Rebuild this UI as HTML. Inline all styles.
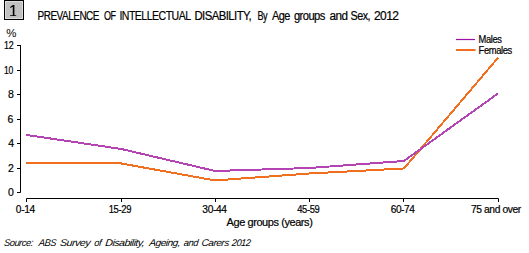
<!DOCTYPE html>
<html><head><meta charset="utf-8">
<style>
html,body{margin:0;padding:0;background:#fff;width:529px;height:253px;overflow:hidden}
svg{display:block}
text{font-family:"Liberation Sans",sans-serif;fill:#000;stroke:#000;stroke-width:0.2px}
</style></head><body>
<svg width="529" height="253" viewBox="0 0 529 253">
<g class="shapes">
<rect x="4.5" y="0.5" width="19" height="19" fill="#c0c0c0" stroke="#000" stroke-width="1"/>
<rect x="5.5" y="1.5" width="17" height="17" fill="none" stroke="#dcdcdc" stroke-width="1"/>
<path d="M12.8 5H14.4V15.2H16.2V16.1H10.1V15.2H12.8V6.7L10.2 8V7.1Z" fill="#000"/>
<g stroke="#000" stroke-width="1" fill="none">
<path d="M20.5 45V192.5M17 45.5H20.5M17 70.5H20.5M17 94.5H20.5M17 119.5H20.5M17 143.5H20.5M17 168.5H20.5M17 192.5H20.5"/>
<path d="M26.5 202V198.5H498.5V202M121.5 198.5V202M215.5 198.5V202M309.5 198.5V202M403.5 198.5V202"/>
</g>
<polyline shape-rendering="crispEdges" fill="none" stroke="#f07020" stroke-width="2" points="26,163.35 121,163.43 215,180.45 309.5,173.5 404,168.46 498,57.8"/>
<polyline shape-rendering="crispEdges" fill="none" stroke="#b444b4" stroke-width="2" points="26,134.88 121,148.93 215,170.98 309.5,168.0 404,160.96 498,93.5"/>
<path d="M456 39.5H475" stroke="#9c10a4" stroke-width="1.2"/>
<path d="M456 50H475.5" stroke="#f07020" stroke-width="2"/>
</g>
<g class="texts">
<text x="37.50" y="19.70" font-size="12" textLength="61.50" lengthAdjust="spacingAndGlyphs" style="letter-spacing:-0.6px;">PREVALENCE</text>
<text x="104.00" y="19.70" font-size="12" textLength="11.65" lengthAdjust="spacingAndGlyphs" style="letter-spacing:-0.6px;">OF</text>
<text x="119.45" y="19.70" font-size="12" textLength="71.05" lengthAdjust="spacingAndGlyphs" style="letter-spacing:-0.6px;">INTELLECTUAL</text>
<text x="194.45" y="19.70" font-size="12" textLength="56.70" lengthAdjust="spacingAndGlyphs" style="letter-spacing:-0.6px;">DISABILITY,</text>
<text x="257.50" y="19.70" font-size="12" textLength="9.70" lengthAdjust="spacingAndGlyphs" style="letter-spacing:-0.6px;">By</text>
<text x="272.00" y="19.70" font-size="12" textLength="17.85" lengthAdjust="spacingAndGlyphs" style="letter-spacing:-0.6px;">Age</text>
<text x="293.95" y="19.70" font-size="12" textLength="30.85" lengthAdjust="spacingAndGlyphs" style="letter-spacing:-0.6px;">groups</text>
<text x="329.60" y="19.70" font-size="12" textLength="17.85" lengthAdjust="spacingAndGlyphs" style="letter-spacing:-0.6px;">and</text>
<text x="350.60" y="19.70" font-size="12" textLength="19.40" lengthAdjust="spacingAndGlyphs" style="letter-spacing:-0.6px;">Sex,</text>
<text x="374.00" y="19.70" font-size="12" textLength="24.30" lengthAdjust="spacingAndGlyphs" style="letter-spacing:-0.6px;">2012</text>
<text x="6.18" y="37.40" font-size="11" textLength="10.18" lengthAdjust="spacingAndGlyphs" style="stroke-width:0.0px;">%</text>
<text x="4.05" y="48.80" font-size="10.5" textLength="9.25" lengthAdjust="spacingAndGlyphs" style="letter-spacing:-0.4px;">12</text>
<text x="4.05" y="73.80" font-size="10.5" textLength="8.90" lengthAdjust="spacingAndGlyphs" style="letter-spacing:-0.4px;">10</text>
<text x="8.00" y="97.80" font-size="10.5">8</text>
<text x="7.55" y="122.80" font-size="10.5">6</text>
<text x="8.20" y="146.80" font-size="10.5">4</text>
<text x="7.90" y="171.80" font-size="10.5">2</text>
<text x="8.00" y="195.80" font-size="10.5">0</text>
<text x="15.85" y="212.60" font-size="10.5" textLength="18.90" lengthAdjust="spacingAndGlyphs" style="letter-spacing:-0.4px;">0-14</text>
<text x="108.70" y="212.60" font-size="10.5" textLength="22.40" lengthAdjust="spacingAndGlyphs" style="letter-spacing:-0.4px;">15-29</text>
<text x="202.35" y="212.60" font-size="10.5" textLength="24.25" lengthAdjust="spacingAndGlyphs" style="letter-spacing:-0.4px;">30-44</text>
<text x="297.20" y="212.60" font-size="10.5" textLength="22.25" lengthAdjust="spacingAndGlyphs" style="letter-spacing:-0.4px;">45-59</text>
<text x="390.65" y="212.60" font-size="10.5" textLength="23.95" lengthAdjust="spacingAndGlyphs" style="letter-spacing:-0.4px;">60-74</text>
<text x="470.90" y="212.60" font-size="10.5" textLength="50.00" lengthAdjust="spacingAndGlyphs" style="letter-spacing:-0.4px;">75 and over</text>
<text x="226.55" y="225.50" font-size="10.5" textLength="85.85" lengthAdjust="spacingAndGlyphs" style="letter-spacing:-0.4px;">Age groups (years)</text>
<text x="478.55" y="43.20" font-size="10" textLength="23.05" lengthAdjust="spacingAndGlyphs" style="letter-spacing:-0.4px;">Males</text>
<text x="478.55" y="53.90" font-size="10" textLength="33.40" lengthAdjust="spacingAndGlyphs" style="letter-spacing:-0.4px;">Females</text>
<text x="3.66" y="246.10" font-size="9.8" textLength="28.91" lengthAdjust="spacingAndGlyphs" font-style="italic" style="stroke-width:0.0px;letter-spacing:-0.5px;" transform="translate(0 246.1) skewX(-6) translate(0 -246.1)">Source:</text>
<text x="38.46" y="246.10" font-size="9.8" textLength="17.25" lengthAdjust="spacingAndGlyphs" font-style="italic" style="stroke-width:0.0px;letter-spacing:-0.5px;" transform="translate(0 246.1) skewX(-6) translate(0 -246.1)">ABS</text>
<text x="59.66" y="246.10" font-size="9.8" textLength="30.11" lengthAdjust="spacingAndGlyphs" font-style="italic" style="stroke-width:0.0px;letter-spacing:-0.5px;" transform="translate(0 246.1) skewX(-6) translate(0 -246.1)">Survey</text>
<text x="94.09" y="246.10" font-size="9.8" textLength="6.86" lengthAdjust="spacingAndGlyphs" font-style="italic" style="stroke-width:0.0px;letter-spacing:-0.5px;" transform="translate(0 246.1) skewX(-6) translate(0 -246.1)">of</text>
<text x="105.09" y="246.10" font-size="9.8" textLength="38.73" lengthAdjust="spacingAndGlyphs" font-style="italic" style="stroke-width:0.0px;letter-spacing:-0.5px;" transform="translate(0 246.1) skewX(-6) translate(0 -246.1)">Disability,</text>
<text x="149.01" y="246.10" font-size="9.8" textLength="30.82" lengthAdjust="spacingAndGlyphs" font-style="italic" style="stroke-width:0.0px;letter-spacing:-0.5px;" transform="translate(0 246.1) skewX(-6) translate(0 -246.1)">Ageing,</text>
<text x="183.62" y="246.10" font-size="9.8" textLength="14.13" lengthAdjust="spacingAndGlyphs" font-style="italic" style="stroke-width:0.0px;letter-spacing:-0.5px;" transform="translate(0 246.1) skewX(-6) translate(0 -246.1)">and</text>
<text x="201.37" y="246.10" font-size="9.8" textLength="27.05" lengthAdjust="spacingAndGlyphs" font-style="italic" style="stroke-width:0.0px;letter-spacing:-0.5px;" transform="translate(0 246.1) skewX(-6) translate(0 -246.1)">Carers</text>
<text x="231.47" y="246.10" font-size="9.8" textLength="18.69" lengthAdjust="spacingAndGlyphs" font-style="italic" style="stroke-width:0.0px;letter-spacing:-0.5px;" transform="translate(0 246.1) skewX(-6) translate(0 -246.1)">2012</text>
</g>
</svg>
</body></html>
